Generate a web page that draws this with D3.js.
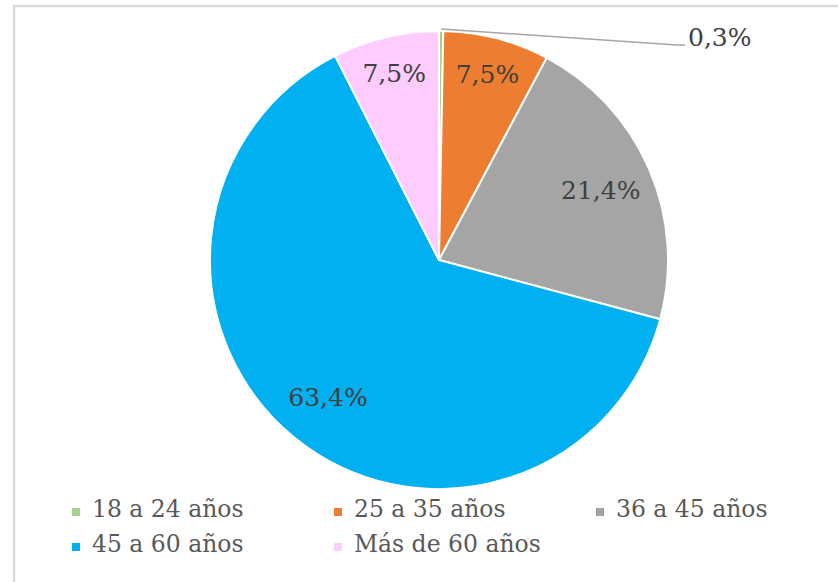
<!DOCTYPE html>
<html>
<head>
<meta charset="utf-8">
<script src="https://cdn.jsdelivr.net/npm/d3@7/dist/d3.min.js"></script>
<style>
	body { margin: 0; background: #fff; }
	svg { display: block; }
</style>
</head>
<body>
<div id="chart"></div>
<script>
// data
var categories = ['18 a 24 años', '25 a 35 años', '36 a 45 años', '45 a 60 años', 'Más de 60 años'];
var values = [0.3, 7.5, 21.4, 63.4, 7.5];
var colors = ['#a9d18e', '#ed7d31', '#a5a5a5', '#00b0f0', '#ffccff'];

var width = 838;
var height = 582;
var radius = 229;
var center = {x: 439, y: 260};
var font = '"DejaVu Serif", serif';

var esFormat = d3.formatLocale({decimal: ',', thousands: '.', grouping: [3], currency: ['', '€']}).format('.1f');

var data = categories.map(function(c, i) {
	return {key: c, value: values[i]};
});

var color = d3.scaleOrdinal()
	.domain(categories)
	.range(colors);

var svg = d3.select('#chart').append('svg')
	.attr('width', width)
	.attr('height', height);

// chart frame (runs off the right and bottom edges in the reference)
svg.append('rect')
	.attr('x', 14)
	.attr('y', 6)
	.attr('width', width + 50)
	.attr('height', height + 50)
	.attr('fill', 'none')
	.attr('stroke', '#d9d9d9')
	.attr('stroke-width', 2.5);

var pie = d3.pie()
	.sort(null)
	.value(function(d) { return d.value; });

var arcs = pie(data);

var arc = d3.arc()
	.innerRadius(0)
	.outerRadius(radius);

var g = svg.append('g')
	.attr('transform', 'translate(' + center.x + ',' + center.y + ')');

g.selectAll('path.slice')
	.data(arcs)
	.enter().append('path')
	.attr('class', 'slice')
	.attr('d', arc)
	.attr('fill', function(d) { return color(d.data.key); })
	.attr('stroke', '#fff')
	.attr('stroke-width', 2)
	.attr('stroke-linejoin', 'round');

// inside labels, small slices sit a bit further out
var insideArcs = arcs.filter(function(d) { return d.data.value >= 1; });
var outsideArcs = arcs.filter(function(d) { return d.data.value < 1; });

function labelArc(d) {
	var r = d.data.value < 10 ? radius * 0.84 : radius * 0.77;
	return d3.arc().innerRadius(r).outerRadius(r);
}

g.selectAll('text.inside')
	.data(insideArcs)
	.enter().append('text')
	.attr('class', 'inside')
	.attr('transform', function(d) { return 'translate(' + labelArc(d).centroid(d) + ')'; })
	.attr('text-anchor', 'middle')
	.attr('dy', '0.36em')
	.attr('font-family', font)
	.attr('font-size', 25)
	.attr('fill', '#404040')
	.text(function(d) { return esFormat(d.data.value) + '%'; });

// tiny slice: label out to the right with a leader line
var leaderStart = d3.arc().innerRadius(radius + 2).outerRadius(radius + 2);
var labelPos = [radius + 20, -radius + 15];

g.selectAll('polyline.leader')
	.data(outsideArcs)
	.enter().append('polyline')
	.attr('class', 'leader')
	.attr('points', function(d) {
		var a = leaderStart.centroid(d);
		return [a, [labelPos[0] - 11, labelPos[1] - 1], [labelPos[0] - 3, labelPos[1] - 1]].join(' ');
	})
	.attr('fill', 'none')
	.attr('stroke', '#a6a6a6')
	.attr('stroke-width', 1.5);

g.selectAll('text.outside')
	.data(outsideArcs)
	.enter().append('text')
	.attr('class', 'outside')
	.attr('x', labelPos[0])
	.attr('y', labelPos[1])
	.attr('font-family', font)
	.attr('font-size', 25)
	.attr('fill', '#404040')
	.text(function(d) { return esFormat(d.data.value) + '%'; });

// legend, three per row
var legendCols = 3;
var legend = svg.append('g')
	.attr('font-family', font)
	.attr('font-size', 23.5)
	.selectAll('g')
	.data(categories)
	.enter().append('g')
	.attr('transform', function(d, i) {
		return 'translate(' + (72 + (i % legendCols) * 262) + ',' + (517 + Math.floor(i / legendCols) * 35) + ')';
	});

legend.append('rect')
	.attr('x', 0)
	.attr('y', -9)
	.attr('width', 8)
	.attr('height', 8)
	.attr('fill', color);

legend.append('text')
	.attr('x', 20)
	.attr('y', 0)
	.attr('fill', '#595959')
	.text(function(d) { return d; });
</script>
</body>
</html>
